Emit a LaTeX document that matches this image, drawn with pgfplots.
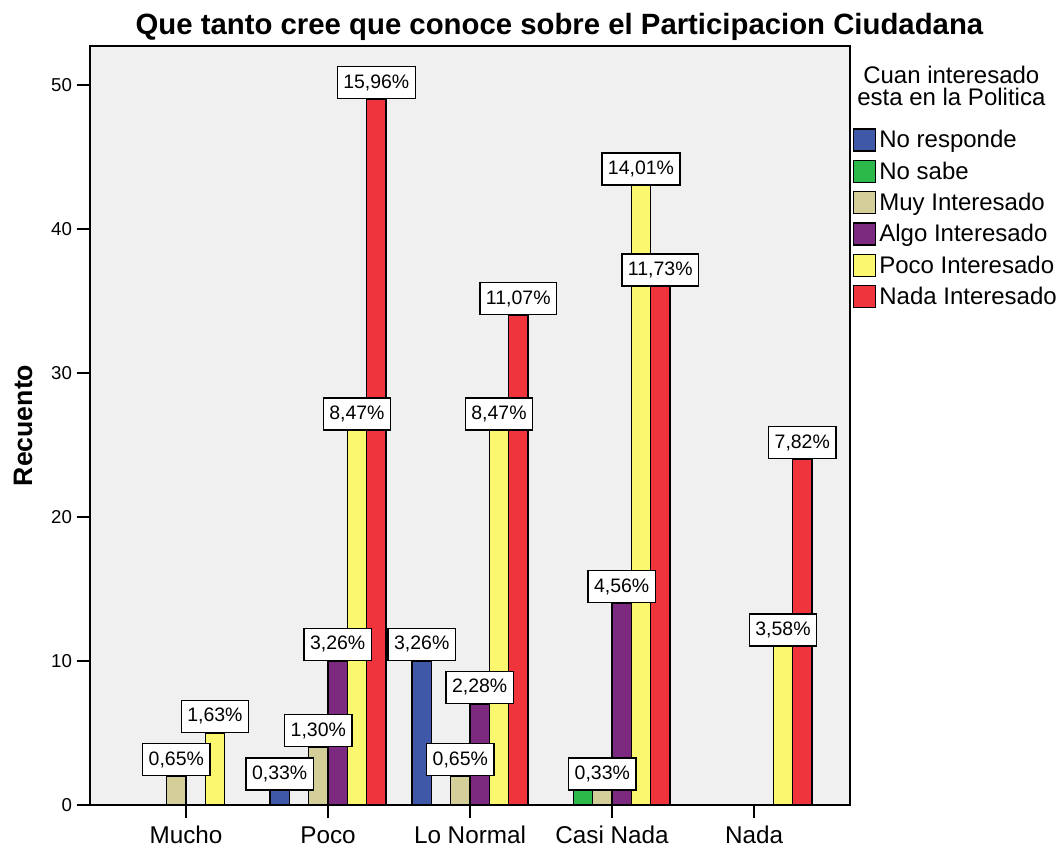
\documentclass[border=0pt]{standalone}
\usepackage{fontspec}
\setmainfont{Liberation Sans}
\usepackage{pgfplots}
\pgfplotsset{compat=1.18}
\definecolor{cBlue}{HTML}{3F58A8}
\definecolor{cGreen}{HTML}{2DB84A}
\definecolor{cTan}{HTML}{D4CF99}
\definecolor{cPurple}{HTML}{7C2A7F}
\definecolor{cYellow}{HTML}{FBF86F}
\definecolor{cRed}{HTML}{F0343C}
\definecolor{bgGray}{HTML}{F0F0F0}
\pgfplotsset{
  sqlegend/.style={legend image code/.code={\draw[##1,line width=1.1pt] (0pt,-8.25pt) rectangle (16.5pt,8.25pt);}},
  barstyle/.style={draw=black, line width=1.1pt, sqlegend},
  labstyle/.style={draw=none, fill=none, forget plot, nodes near coords, point meta=explicit symbolic,
    every node near coord/.append style={draw=black, fill=white, line width=1.1pt, text=black,
      font=\fontsize{14.6}{17}\selectfont, inner xsep=4.5pt, inner ysep=0pt,
      minimum height=24pt, anchor=south}},
}
\begin{document}
\begin{tikzpicture}
\begin{axis}[
  at={(0pt,0pt)}, anchor=south west,
  scale only axis, width=570pt, height=569.25pt,
  xmin=-0.676, xmax=4.676, ymin=0, ymax=52.7,
  axis background/.style={fill=bgGray},
  axis line style={line width=1.1pt},
  ybar, bar width=0.136,
  xtick={0,1,2,3,4}, xticklabels={Mucho,Poco,Lo Normal,Casi Nada,Nada},
  ytick={0,10,20,30,40,50},
  tick align=outside, major tick length=10pt,
  tick style={line width=1.1pt, black},
  xtick pos=left, ytick pos=left,
  /pgf/number format/assume math mode=true,
  yticklabel style={font=\fontsize{14}{16}\selectfont},
  xticklabel style={font=\fontsize{18.2}{21}\selectfont, text height=13.5pt, yshift=-2pt},
  ylabel={Recuento},
  every axis y label/.style={at={(axis description cs:-0.088,0.5)}, rotate=90, anchor=center,
    font=\bfseries\fontsize{20}{24}\selectfont},
  legend style={at={(1.003,0.897)}, anchor=north west, draw=none, fill=none,
    font=\fontsize{18}{20}\selectfont, row sep=0pt, inner sep=0pt,
    nodes={inner xsep=2.5pt, inner ysep=0pt, minimum height=23.5pt}},
  legend cell align=left,
]
\addplot[barstyle, fill=cBlue, bar shift=-0.34] coordinates {(1,1) (2,10)};
\addplot[barstyle, fill=cGreen, bar shift=-0.204] coordinates {(3,1)};
\addplot[barstyle, fill=cTan, bar shift=-0.068] coordinates {(0,2) (1,4) (2,2) (3,1)};
\addplot[barstyle, fill=cPurple, bar shift=0.068] coordinates {(1,10) (2,7) (3,14)};
\addplot[barstyle, fill=cYellow, bar shift=0.204] coordinates {(0,5) (1,26) (2,26) (3,43) (4,11)};
\addplot[barstyle, fill=cRed, bar shift=0.34] coordinates {(1,49) (2,34) (3,36) (4,24)};
\legend{No responde,No sabe,Muy Interesado,Algo Interesado,Poco Interesado,Nada Interesado}
% labels on top
\addplot[labstyle, bar shift=-0.34] coordinates {(1,1) [0,33\%] (2,10) [3,26\%]};
\addplot[labstyle, bar shift=-0.068] coordinates {(0,2) [0,65\%] (1,4) [1,30\%] (2,2) [0,65\%] (3,1) [0,33\%]};
\addplot[labstyle, bar shift=0.068] coordinates {(1,10) [3,26\%] (2,7) [2,28\%] (3,14) [4,56\%]};
\addplot[labstyle, bar shift=0.204] coordinates {(0,5) [1,63\%] (1,26) [8,47\%] (2,26) [8,47\%] (3,43) [14,01\%] (4,11) [3,58\%]};
\addplot[labstyle, bar shift=0.34] coordinates {(1,49) [15,96\%] (2,34) [11,07\%] (3,36) [11,73\%] (4,24) [7,82\%]};
\end{axis}
\node[anchor=base, font=\bfseries\fontsize{22}{26}\selectfont] at (352.1pt,577.5pt)
  {Que tanto cree que conoce sobre el Participacion Ciudadana};
\node[anchor=north, align=center, inner sep=0pt, font=\fontsize{18}{16.5}\selectfont] at (646pt,554pt)
  {Cuan interesado\\esta en la Politica};
\pgfresetboundingbox
\path[use as bounding box] (-67.5pt,-32.25pt) rectangle (728.25pt,603.75pt);
\end{tikzpicture}
\end{document}
